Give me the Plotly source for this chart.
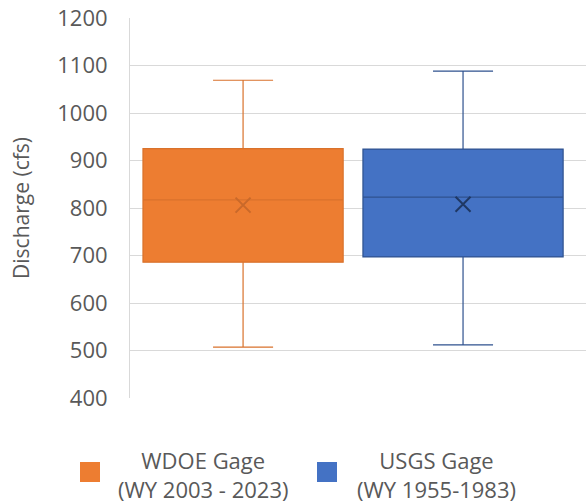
import plotly.graph_objects as go

# Box-plot summary statistics of discharge (cfs) for each gage record
gages = ["WDOE Gage", "USGS Gage"]
periods = ["(WY 2003 - 2023)", "(WY 1955-1983)"]
lower_whisker = [507, 512]
q1 = [686, 697]
median = [817, 823]
q3 = [925, 924]
upper_whisker = [1069, 1088]
mean = [806, 808]

fill_colors = ["#ED7D31", "#4472C4"]
line_colors = ["#D9722C", "#2F528F"]
mean_colors = ["#C9692A", "#1F3864"]

TEXT = "#595959"
FONT = "Open Sans"

fig = go.Figure()
for i, name in enumerate(gages):
    fig.add_trace(go.Box(
        x=[i], name=name,
        lowerfence=[lower_whisker[i]], q1=[q1[i]], median=[median[i]],
        q3=[q3[i]], upperfence=[upper_whisker[i]],
        width=0.91, whiskerwidth=0.3,
        fillcolor=fill_colors[i],
        line=dict(color=line_colors[i], width=1.2),
        boxpoints=False, showlegend=False, hoverinfo="skip",
    ))
    fig.add_trace(go.Scatter(
        x=[i], y=[mean[i]], mode="markers", showlegend=False, hoverinfo="skip",
        marker=dict(symbol="x-thin", size=15,
                    line=dict(color=mean_colors[i], width=2)),
    ))

# Plot-area geometry in pixels (used for the hand-placed legend)
W, H = 586, 504
ML, MR, MT, MB = 130, 0, 18, 106
pw, ph = W - ML - MR, H - MT - MB


def px(x):
    return (x - ML) / pw


def py(y):
    return (H - MB - y) / ph


legend_sq_x = [80, 317]
legend_txt_x = [203, 436]
for i in range(len(gages)):
    fig.add_shape(type="rect", xref="paper", yref="paper",
                  x0=px(legend_sq_x[i]), x1=px(legend_sq_x[i] + 20),
                  y0=py(482), y1=py(462),
                  fillcolor=fill_colors[i], line=dict(width=0))
    fig.add_annotation(xref="paper", yref="paper",
                       x=px(legend_txt_x[i]), y=py(474),
                       text=f"{gages[i]}<br>{periods[i]}",
                       showarrow=False, align="center",
                       xanchor="center", yanchor="middle",
                       font=dict(family=FONT, size=22, color=TEXT))

fig.update_layout(
    width=W, height=H,
    margin=dict(l=ML, r=MR, t=MT, b=MB, pad=0),
    paper_bgcolor="white", plot_bgcolor="white",
    font=dict(family=FONT, size=21, color=TEXT),
    xaxis=dict(range=[-0.514, 1.559], showticklabels=False, showgrid=False,
               zeroline=False, showline=False, ticks=""),
    yaxis=dict(range=[400, 1200], dtick=100, showgrid=True,
               gridcolor="#D9D9D9", gridwidth=1, zeroline=False,
               showline=True, linecolor="#D9D9D9", linewidth=1,
               ticks="", ticklabelstandoff=17,
               title=dict(text="Discharge (cfs)", standoff=21,
                          font=dict(family=FONT, size=21, color=TEXT)),
               tickfont=dict(family=FONT, size=22, color=TEXT)),
)

fig.write_html("out.html")
